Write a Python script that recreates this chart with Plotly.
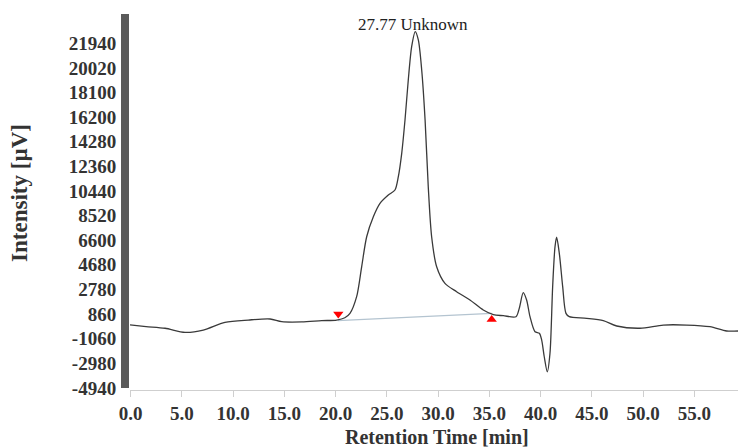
import plotly.graph_objects as go

# Chromatogram trace (retention time in min, intensity in µV)
time_min = [-0.07, 1.5, 3.35, 5.3, 7.08, 9.2, 11.48, 13.6, 14.74, 16.69, 18.64, 20.1, 20.9,
            21.4, 22.05, 22.54, 23.03, 23.68, 24.33, 25.14, 25.79, 26.12, 26.45, 26.77, 27.09,
            27.42, 27.77, 28.07, 28.4, 28.73, 29.04, 29.37, 29.86, 30.67, 31.81, 33.11, 34.41,
            35.39, 36.36, 37.6, 37.92, 38.31, 38.64, 38.97, 39.46, 39.88, 40.11, 40.36, 40.66,
            40.92, 41.18, 41.41, 41.57, 41.83, 42.16, 42.48, 42.8, 44.5, 46.12, 47.43, 49.7,
            51.98, 54.26, 56.53, 58.16, 59.27]
intensity_uv = [0, -130, -260, -580, -400, 200, 380, 460, 250, 230, 330, 380, 560,
                900, 2200, 4530, 6870, 8430, 9470, 10120, 10510, 11550, 13370, 15960, 19080,
                21680, 22850, 22200, 19860, 15960, 10770, 6870, 4530, 3240, 2590, 1940, 1160,
                800, 720, 640, 1290, 2510, 1940, 640, -530, -650, -1180, -2480, -3650,
                -2210, 2980, 6090, 6830, 5580, 2980, 900, 640, 515, 330, -85, -260,
                -10, -10, -140, -475, -475]

# Integration baseline and peak start/end markers
baseline_t = [20.2, 35.23]
baseline_v = [330, 900]
start_marker = (20.26, 850)
end_marker = (35.23, 420)

peak_label = "27.77 Unknown"
peak_label_pos = (27.55, 23370)

y_ticks = [21940, 20020, 18100, 16200, 14280, 12360, 10440, 8520, 6600, 4680, 2780, 860,
           -1060, -2980, -4940]
x_ticks = [0, 5, 10, 15, 20, 25, 30, 35, 40, 45, 50, 55]

SERIF = "Liberation Serif"

fig = go.Figure()
fig.add_trace(go.Scatter(x=baseline_t, y=baseline_v, mode="lines",
                         line=dict(color="#b4c4d0", width=1.2), hoverinfo="skip"))
fig.add_trace(go.Scatter(x=time_min, y=intensity_uv, mode="lines",
                         line=dict(color="#3a3a3a", width=1.3, shape="spline", smoothing=0.8)))
fig.add_trace(go.Scatter(x=[start_marker[0]], y=[start_marker[1]], mode="markers",
                         marker=dict(symbol="triangle-down", color="#ff0000", size=9)))
fig.add_trace(go.Scatter(x=[end_marker[0]], y=[end_marker[1]], mode="markers",
                         marker=dict(symbol="triangle-up", color="#ff0000", size=9)))

fig.add_annotation(x=peak_label_pos[0], y=peak_label_pos[1], text=peak_label, showarrow=False,
                   xanchor="center", yanchor="middle",
                   font=dict(family=SERIF, size=17, color="#222"), xref="x", yref="y")

fig.add_annotation(x=0.505, y=-0.124, xref="paper", yref="paper", text="Retention Time [min]",
                   xanchor="center", yanchor="middle", showarrow=False,
                   font=dict(family=SERIF, size=20, color="#333", weight="bold"))
fig.add_annotation(x=-0.181, y=0.524, xref="paper", yref="paper", text="Intensity [µV]",
                   xanchor="center", yanchor="middle", textangle=-90, showarrow=False,
                   font=dict(family=SERIF, size=23, color="#333", weight="bold"))

# dark striped axis bar on the left
fig.add_shape(type="rect", xref="paper", yref="paper", x0=-9/608, x1=-1/608, y0=0.005, y1=1.0,
              fillcolor="#5a5a5a", line=dict(width=0), layer="above")

fig.update_layout(
    width=738, height=448,
    margin=dict(l=130, r=0, t=14, b=58),
    paper_bgcolor="white", plot_bgcolor="white",
    showlegend=False,
    xaxis=dict(range=[-0.07, 59.27], tickvals=x_ticks, ticktext=[f"{v:.1f}" for v in x_ticks],
               showgrid=False, zeroline=False, showline=True, linecolor="#cfcfcf", linewidth=1,
               ticks="outside", ticklen=6, tickcolor="#cfcfcf", ticklabelstandoff=0,
               tickfont=dict(family=SERIF, size=19, color="#333", weight="bold")),
    yaxis=dict(range=[-5071, 24223], tickvals=y_ticks, ticktext=[str(v) for v in y_ticks],
               showgrid=False, zeroline=False, showline=False,
               ticks="outside", ticklen=9, tickcolor="rgba(0,0,0,0)",
               tickfont=dict(family=SERIF, size=19, color="#333", weight="bold")),
)

fig.write_html("out.html")
